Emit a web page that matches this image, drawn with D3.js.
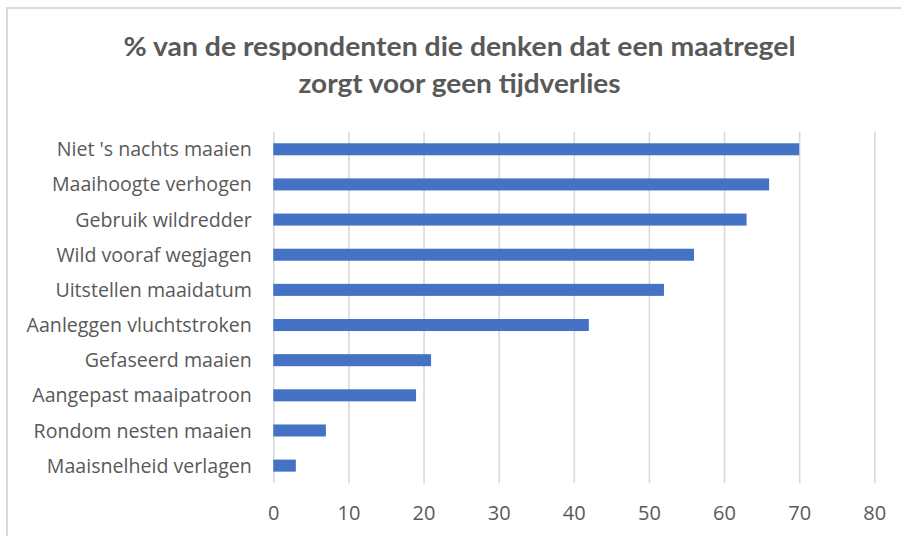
<!DOCTYPE html>
<html>
<head>
<meta charset="utf-8">
<script src="https://cdn.jsdelivr.net/npm/d3@7"></script>
<style>
  html, body { margin: 0; padding: 0; background: #ffffff; }
  svg { display: block; }
</style>
</head>
<body>
<svg id="chart" width="901" height="536"></svg>
<script>
// Measures, top to bottom
const categories = [
  "Niet 's nachts maaien",
  "Maaihoogte verhogen",
  "Gebruik wildredder",
  "Wild vooraf wegjagen",
  "Uitstellen maaidatum",
  "Aanleggen vluchtstroken",
  "Gefaseerd maaien",
  "Aangepast maaipatroon",
  "Rondom nesten maaien",
  "Maaisnelheid verlagen"
];
// % of respondents expecting no loss of time
const values = [70, 66, 63, 56, 52, 42, 21, 19, 7, 3];
const xTicks = [0, 10, 20, 30, 40, 50, 60, 70, 80];
const titleLines = [
  "% van de respondenten die denken dat een maatregel",
  "zorgt voor geen tijdverlies"
];

const svg = d3.select("#chart");
const W = 901, H = 536;
const plot = { left: 273.3, right: 874.3, top: 131.7, bottom: 483.2 };
const textColor = "#595959";
const gridColor = "#d9d9d9";
const labelFont = "'Open Sans', 'Noto Sans', sans-serif";

// chart area frame (runs off the right and bottom edges)
svg.append("rect")
  .attr("x", 7).attr("y", 8)
  .attr("width", W + 20).attr("height", H + 20)
  .attr("fill", "#ffffff")
  .attr("stroke", gridColor)
  .attr("stroke-width", 2);

// title
const title = svg.append("g")
  .attr("font-family", "Lato, 'Open Sans', sans-serif")
  .attr("font-weight", "bold")
  .attr("font-size", 26)
  .attr("fill", textColor)
  .attr("text-anchor", "middle");
const titleY = [56, 92.7];
const titleW = [672, 322];
titleLines.forEach((t, i) => {
  title.append("text")
    .attr("x", 459.5)
    .attr("y", titleY[i])
    .attr("textLength", titleW[i])
    .attr("lengthAdjust", "spacingAndGlyphs")
    .text(t);
});

const x = d3.scaleLinear().domain([0, 80]).range([plot.left, plot.right]);
const y = d3.scaleBand()
  .domain(categories)
  .range([plot.top, plot.bottom])
  .paddingInner(0.658)
  .paddingOuter(0.329);

// vertical gridlines
svg.append("g")
  .attr("transform", `translate(0,${plot.bottom})`)
  .call(d3.axisBottom(x).tickValues(xTicks).tickSize(-(plot.bottom - plot.top)).tickFormat(""))
  .call(g => g.select(".domain").remove())
  .call(g => g.selectAll(".tick line")
    .attr("stroke", gridColor)
    .attr("stroke-width", 1.6));

// bars
svg.append("g")
  .selectAll("rect")
  .data(categories.map((c, i) => ({ c, v: values[i] })))
  .join("rect")
  .attr("x", x(0))
  .attr("y", d => y(d.c))
  .attr("width", d => x(d.v) - x(0))
  .attr("height", y.bandwidth())
  .attr("fill", "#4472c4");

// value axis labels
svg.append("g")
  .attr("transform", `translate(0,${plot.bottom})`)
  .call(d3.axisBottom(x).tickValues(xTicks).tickSize(0).tickPadding(23))
  .call(g => g.select(".domain").remove())
  .call(g => g.selectAll(".tick text")
    .attr("font-family", labelFont)
    .attr("font-size", 20)
    .attr("fill", textColor));

// category axis labels
svg.append("g")
  .attr("transform", `translate(${plot.left},0)`)
  .call(d3.axisLeft(y).tickSize(0).tickPadding(21.5))
  .call(g => g.select(".domain").remove())
  .call(g => g.selectAll(".tick text")
    .attr("font-family", labelFont)
    .attr("font-size", 19.6)
    .attr("dy", "0.36em")
    .attr("fill", textColor));
</script>
</body>
</html>
